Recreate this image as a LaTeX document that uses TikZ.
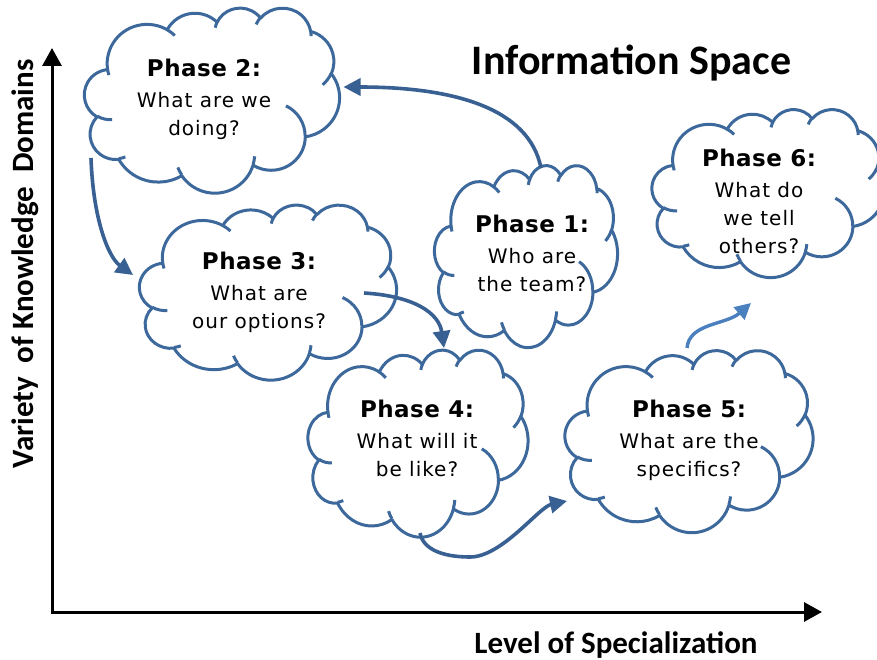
\documentclass[tikz,border=0pt]{standalone}
\usepackage{fontspec}
\setmainfont{DejaVu Sans}
\newfontfamily\phasefont[LetterSpace=5]{DejaVu Sans}
\newfontfamily\phasehead[LetterSpace=2]{DejaVu Sans}
\newfontfamily\calfont{Carlito}
\usetikzlibrary{arrows.meta,calc}
\definecolor{cloudblue}{RGB}{60,104,155}
\definecolor{arrowblue}{RGB}{56,96,146}
\definecolor{lightarrow}{RGB}{74,128,190}
\tikzset{
  cloudline/.style={draw=cloudblue, line width=3pt, line join=round},
  phasetext/.style={align=center, inner sep=0pt, anchor=north, font=\phasefont\fontsize{20}{28}\selectfont},
  flow/.style={draw=arrowblue, line width=3.6pt, -{Triangle[length=17pt,width=17pt]}},
  lightflow/.style={draw=lightarrow, line width=3.4pt, -{Triangle[length=16pt,width=16pt]}},
  axisline/.style={draw=black, line width=3pt, line join=miter, {Triangle[length=18pt,width=19pt]}-{Triangle[length=18pt,width=19pt]}},
  bigtitle/.style={font=\calfont\bfseries\fontsize{42}{42}\selectfont, inner sep=0pt, anchor=base},
  axislabel/.style={font=\calfont\bfseries\fontsize{31}{31}\selectfont, inner sep=0pt, anchor=base}
}
\newcommand\phasehd[1]{{\phasehead\bfseries\fontsize{23}{28}\selectfont #1}}
\newcommand\pptcloud[5]{%
  \node[minimum width=#4pt, minimum height=#5pt, inner sep=0pt, outer sep=0pt] (#1) at (#2,#3) {};
  \begin{scope}[shift={(#2-#4/2,#3-#5/2)}, xscale=#4/432, yscale=#5/432]
    \filldraw[cloudline, fill=white] (39.00,143.70)
      arc[start angle=-187.744, end angle=-59.63, x radius=67.53, y radius=91.90]
      arc[start angle=-152.02, end angle=-45.45, x radius=53.33, y radius=72.67]
      arc[start angle=-153.48, end angle=-37.32, x radius=43.65, y radius=59.45]
      arc[start angle=-139.70, end angle=-10.21, x radius=48.57, y radius=65.95]
      arc[start angle=-74.77, end angle=23.22, x radius=53.33, y radius=72.73]
      arc[start angle=-37.52, end angle=81.86, x radius=67.75, y radius=92.20]
      arc[start angle=0.46, end angle=121.98, x radius=57.85, y radius=78.67]
      arc[start angle=16.84, end angle=146.23, x radius=67.52, y radius=92.15]
      arc[start angle=59.03, end angle=150.19, x radius=77.20, y radius=105.43]
      arc[start angle=-276.69, end angle=-136.91, x radius=43.60, y radius=59.18]
      arc[start angle=-239.65, end angle=-95.89, x radius=43.45, y radius=59.45]
      -- cycle;
    \draw[cloudline]
      (46.93,261.77) arc[start angle=85.55, end angle=120.35, x radius=43.45, y radius=59.45]
      (69.28,348.99) arc[start angle=68.26, end angle=83.31, x radius=43.60, y radius=59.18]
      (164.78,390.90) arc[start angle=146.23, end angle=158.47, x radius=67.52, y radius=92.15]
      (288.27,347.51) arc[start angle=4.74, end angle=16.84, x radius=67.52, y radius=92.15]
      (341.29,229.54) arc[start angle=-63.99, end angle=0.46, x radius=57.85, y radius=78.67]
      (417.98,153.54) arc[start angle=23.22, end angle=49.67, x radius=53.33, y radius=72.73]
      (383.24,54.26) arc[start angle=-10.21, end angle=0.82, x radius=48.57, y radius=65.95]
      (290.78,39.52) arc[start angle=-156.28, end angle=-139.70, x radius=48.57, y radius=65.95]
      (221.41,47.20) arc[start angle=-167.73, end angle=-153.48, x radius=43.65, y radius=59.45]
      (140.00,51.92) arc[start angle=-59.63, end angle=-45.74, x radius=67.53, y radius=91.90]
      (41.27,157.89) arc[start angle=163.19, end angle=172.26, x radius=67.53, y radius=91.90];
  \end{scope}%
}
\begin{document}
\begin{tikzpicture}[x=1pt, y=-1pt]
\useasboundingbox (0,0) rectangle (877,660);
\fill[white] (0,0) rectangle (877,660);

% axes
\coordinate (O) at (52,612);
\coordinate (Ytip) at (52,48);
\coordinate (Xtip) at (822,612);
\draw[axisline] (Ytip) -- (O) -- (Xtip);

% labels
\node[bigtitle] (title) at (631.5,75) {Information Space};
\node[axislabel] (xlabel) at (616,653) {Level of Specialization};
\node[axislabel, rotate=90] (ylabel) at (33,264) {Variety~ of Knowledge~ Domains};

% clouds
\pptcloud{c2}{212}{100}{255}{185}
\pptcloud{c3}{268}{292}{257}{175}
\pptcloud{c1}{526}{256}{183}{182}
\pptcloud{c4}{418}{443}{220}{187}
\pptcloud{c6}{768}{193}{232}{168}
\pptcloud{c5}{689}{441}{248}{182}

% texts
\node[phasetext] (t2) at (204,58.5) {\phasehd{Phase 2:}\\[3pt]What are we\\doing?};
\node[phasetext] (t1) at (532,214.5) {\phasehd{Phase 1:}\\[3pt]Who are\\the team?};
\node[phasetext] (t3) at (259,251.5) {\phasehd{Phase 3:}\\[3pt]What are\\our options?};
\node[phasetext] (t4) at (417,399.5) {\phasehd{Phase 4:}\\[3pt]What will it\\be like?};
\node[phasetext] (t5) at (689,399.5) {\phasehd{Phase 5:}\\[3pt]What are the\\specifics?};
\node[phasetext] (t6) at (759,148.5) {\phasehd{Phase 6:}\\[3pt]What do\\we tell\\others?};

% connectors
\draw[flow] ($(c1.north)+(15,3)$) .. controls +(-12,-60) and +(110,0) .. ($(c2.east)+(4,-13)$);
\draw[flow] ($(c2.south west)+(6.5,-34.5)$) .. controls +(2,60) and +(-25,-18) .. ($(c3.west)+(-6.5,-17)$);
\draw[flow] ($(c3.center)+(96,1)$) .. controls +(50,3) and +(-5,-35) .. ($(c4.north)+(26,-1.5)$);
\draw[flow] ($(c4.south)+(2,-3.5)$) .. controls +(3,16) and +(-28,0) .. ++(50,24) .. controls +(32,0) and +(-28,6) .. ($(c5.west)+(2,60)$);
\draw[lightflow] ($(c5.north)+(-2,-2)$) .. controls +(2,-25) and +(-25,22) .. ($(c6.south)+(-17,26)$);
\end{tikzpicture}
\end{document}
